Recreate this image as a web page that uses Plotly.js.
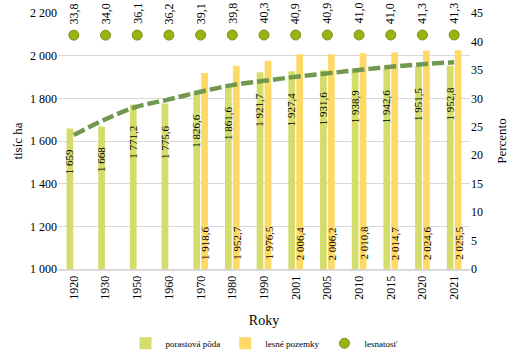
<!DOCTYPE html>
<html>
<head>
<meta charset="utf-8">
<script src="https://cdn.plot.ly/plotly-3.0.1.min.js"></script>
<style>
  html, body { margin: 0; padding: 0; background: #fff; }
  #chart { width: 515px; height: 353px; }
</style>
</head>
<body>
<div id="chart"></div>
<script>
// Roky (years) on the category axis
const roky = ['1920', '1930', '1950', '1960', '1970', '1980', '1990', '2001', '2005', '2010', '2015', '2020', '2021'];

// porastová pôda, tisíc ha
const porastovaPoda = [1659, 1668, 1771.2, 1775.6, 1826.6, 1861.6, 1921.7, 1927.4, 1931.6, 1938.9, 1942.6, 1951.5, 1952.8];

// lesné pozemky, tisíc ha (reported from 1970 on)
const lesnePozemky = [null, null, null, null, 1918.6, 1952.7, 1976.5, 2006.4, 2006.2, 2010.8, 2014.7, 2024.6, 2025.5];

// lesnatosť, percento
const lesnatost = [33.8, 34.0, 36.1, 36.2, 39.1, 39.8, 40.3, 40.9, 40.9, 41.0, 41.0, 41.3, 41.3];

// trend of porastová pôda (dashed curve), tisíc ha
const trendPoda = [1628, 1702, 1761, 1795, 1831, 1862, 1882, 1901, 1917, 1933, 1948, 1960, 1969];

const FONT = 'Liberation Serif';
const GREEN = '#d4dd6c';
const YELLOW = '#ffd966';
const DOT = '#9db20e';

// Slovak number style: space for thousands, comma for decimals
function fmt(v, dec) {
  const s = v.toFixed(dec);
  const parts = s.split('.');
  const int = parts[0].replace(/\B(?=(\d{3})+(?!\d))/g, ' ');
  return parts.length > 1 ? int + ',' + parts[1] : int;
}

const traces = [
  {
    type: 'bar',
    name: 'porastová pôda',
    x: roky,
    y: porastovaPoda,
    marker: { color: GREEN },
    hoverinfo: 'skip'
  },
  {
    type: 'bar',
    name: 'lesné pozemky',
    x: roky,
    y: lesnePozemky,
    marker: { color: YELLOW },
    hoverinfo: 'skip'
  },
  {
    type: 'scatter',
    mode: 'lines',
    x: roky,
    y: trendPoda,
    showlegend: false,
    line: { color: '#71984e', width: 4.5, dash: '12px,4px', shape: 'spline' },
    hoverinfo: 'skip'
  },
  {
    // lesnatosť row sits on its own hidden axis, stretched so the markers line up under the top edge
    type: 'scatter',
    mode: 'markers',
    name: 'lesnatosť',
    x: roky,
    y: lesnatost,
    yaxis: 'y3',
    marker: { color: DOT, size: 10, line: { color: '#7b8f1f', width: 1 } },
    hoverinfo: 'skip'
  },
  {
    // keeps the right-hand axis drawn
    type: 'scatter', mode: 'none', x: [roky[0]], y: [0], yaxis: 'y2',
    showlegend: false, hoverinfo: 'skip'
  }
];

const labelFont = { family: FONT, size: 11, color: '#000' };
const annotations = [];
// values of porastová pôda, just under the top of each green bar
porastovaPoda.forEach((v, i) => {
  annotations.push({
    x: i, xref: 'x', xshift: -4.5,
    y: v, yref: 'y', yanchor: 'top', yshift: -19,
    text: fmt(v, Number.isInteger(v) ? 0 : 1),
    textangle: -90, showarrow: false, font: labelFont
  });
});
// values of lesné pozemky, standing on the foot of each yellow bar
lesnePozemky.forEach((v, i) => {
  if (v === null) return;
  annotations.push({
    x: i, xref: 'x', xshift: 4.5,
    y: 0, yref: 'paper', yanchor: 'bottom', yshift: 7,
    text: fmt(v, 1),
    textangle: -90, showarrow: false, font: labelFont
  });
});
// lesnatosť values above the markers
lesnatost.forEach((v, i) => {
  annotations.push({
    x: i, xref: 'x',
    y: v, yref: 'y3', yanchor: 'bottom', yshift: 9,
    text: fmt(v, 1),
    textangle: -90, showarrow: false,
    font: { family: FONT, size: 12, color: '#000' }
  });
});

const tickFont = { family: FONT, size: 12, color: '#000' };

const layout = {
  width: 515,
  height: 353,
  margin: { l: 58, r: 45, t: 13, b: 84, autoexpand: false },
  paper_bgcolor: '#fff',
  plot_bgcolor: '#fff',
  font: { family: FONT, size: 12, color: '#000' },
  separators: ', ',
  barmode: 'group',
  bargap: 0.5,
  bargroupgap: 0.15,
  showlegend: true,
  legend: {
    orientation: 'h',
    x: 0.5, xanchor: 'center',
    y: -0.29, yanchor: 'middle',
    font: { family: FONT, size: 9, color: '#000' },
    traceorder: 'normal'
  },
  xaxis: {
    type: 'category',
    range: [-0.5, roky.length - 0.5],
    tickangle: -90,
    tickfont: tickFont,
    showline: true, linecolor: '#d9d9d9', linewidth: 2,
    showgrid: false, ticks: '', automargin: false,
    title: { text: 'Roky', font: { family: FONT, size: 14, color: '#000' }, standoff: 16 }
  },
  yaxis: {
    range: [1000, 2200],
    dtick: 200,
    separatethousands: true,
    gridcolor: '#d9d9d9', gridwidth: 1,
    zeroline: false, showline: false, ticks: '',
    tickfont: tickFont,
    automargin: false,
    title: { text: 'tisíc ha', font: { family: FONT, size: 13, color: '#000' }, standoff: 4 }
  },
  yaxis2: {
    overlaying: 'y', side: 'right',
    range: [0, 45], dtick: 5,
    showgrid: false, zeroline: false, showline: false, ticks: '',
    tickfont: tickFont,
    automargin: false,
    title: { text: 'Percento', font: { family: FONT, size: 13, color: '#000' }, standoff: 14 }
  },
  yaxis3: {
    overlaying: 'y',
    range: [-9100, 900],
    visible: false,
    fixedrange: true
  },
  annotations: annotations
};

Plotly.newPlot('chart', traces, layout, { staticPlot: true, displayModeBar: false });
</script>
</body>
</html>
